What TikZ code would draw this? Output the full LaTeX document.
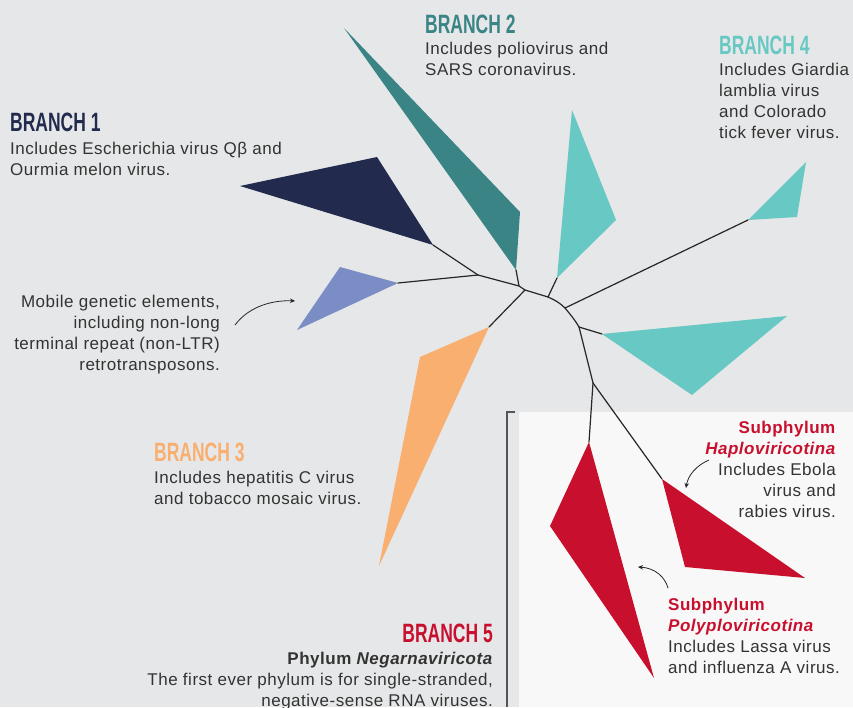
\documentclass[tikz,border=0pt]{standalone}
\usepackage{fontspec}
\usepackage{graphicx}
\setmainfont{Liberation Sans}[LetterSpace=3]
\newfontfamily\titlefont{Liberation Sans}
\usetikzlibrary{arrows.meta}

\definecolor{bgcol}{HTML}{E6E7E8}
\definecolor{panelcol}{HTML}{F8F8F8}
\definecolor{navy}{HTML}{222B4D}
\definecolor{slate}{HTML}{7A8EC5}
\definecolor{darkteal}{HTML}{3A8485}
\definecolor{lightteal}{HTML}{68C8C3}
\definecolor{apricot}{HTML}{F9AF6F}
\definecolor{crimson}{HTML}{C8102E}
\definecolor{bodytext}{HTML}{333333}
\definecolor{rulecol}{HTML}{555555}

% condensed heavy heading
\newcommand\brtitle[1]{\scalebox{0.66}[1]{\titlefont\fontsize{26.5}{26.5}\selectfont\bfseries #1}}

\tikzset{
  body/.style={inner sep=0pt, text=bodytext, font=\fontsize{17}{21}\selectfont},
  heading/.style={inner sep=0pt},
  treeline/.style={draw=black!85, line width=1.2pt, line cap=round, line join=round},
  pointer/.style={draw=black!85, line width=0.8pt, -{Stealth[length=5pt,width=4.5pt]}},
}

\begin{document}
\begin{tikzpicture}[x=1pt,y=-1pt]
% canvas and the lighter panel for branch 5
\fill[bgcol] (0,0) rectangle (853,707);
\useasboundingbox (0,0) rectangle (853,707);
\fill[panelcol] (519,412) rectangle (853,707);
\draw[rulecol, line width=1.3pt] (515,412) -- (507,412) -- (507,707);

% tree junctions
\coordinate (A) at (478,275);
\coordinate (B) at (519,286);
\coordinate (C) at (525,290);
\coordinate (D) at (548,297);
\coordinate (E) at (565,308);
\coordinate (F) at (579,327);
\coordinate (G) at (593,383);

% clade tips
\coordinate (t1) at (433,245);
\coordinate (tm) at (398,283);
\coordinate (t2) at (516,270);
\coordinate (t3) at (489,327);
\coordinate (ta) at (557,278);
\coordinate (t4) at (748,220);
\coordinate (tb) at (602,334);
\coordinate (tr1) at (589,442);
\coordinate (tr2) at (662,479);

% clade wedges
\fill[navy] (t1) -- (240,186) -- (377,157) -- cycle;
\fill[slate] (tm) -- (340,267) -- (297,330) -- cycle;
\fill[darkteal] (t2) -- (344,28) -- (520,212) -- cycle;
\fill[apricot] (t3) -- (420,357) -- (379,566) -- cycle;
\fill[lightteal] (ta) -- (572,110) -- (616,220) -- cycle;
\fill[lightteal] (t4) -- (806,162) -- (797,217) -- cycle;
\fill[lightteal] (tb) -- (787,316) -- (692,395) -- cycle;
\fill[crimson] (tr1) -- (550,526) -- (654,678) -- cycle;
\fill[crimson] (tr2) -- (805,578) -- (685,567) -- cycle;

% branches
\path[treeline] (t1) -- (A);
\path[treeline] (tm) -- (A);
\path[treeline] (A) -- (B) -- (C);
\path[treeline] (t2) -- (B);
\path[treeline] (t3) -- (C);
\path[treeline] (C) -- (D);
\path[treeline] (D) .. controls (555,300) and (560,303) .. (E);
\path[treeline] (E) .. controls (570,314) and (575,320) .. (F);
\path[treeline] (ta) -- (D);
\path[treeline] (t4) -- (E);
\path[treeline] (tb) -- (F);
\path[treeline] (F) -- (G);
\path[treeline] (G) -- (tr1);
\path[treeline] (G) -- (tr2);

% headings and descriptions
\node[heading, anchor=north west, text=navy] (h1) at (10,113) {\brtitle{BRANCH 1}};
\node[body, anchor=north west, align=left] (d1) at (10,142)
  {Includes Escherichia virus Qβ and\\Ourmia melon virus.};

\node[heading, anchor=north west, text=darkteal] (h2) at (425,15) {\brtitle{BRANCH 2}};
\node[body, anchor=north west, align=left] (d2) at (425,42)
  {Includes poliovirus and\\SARS coronavirus.};

\node[heading, anchor=north west, text=lightteal] (h4) at (719,36) {\brtitle{BRANCH 4}};
\node[body, anchor=north west, align=left] (d4) at (719,63)
  {Includes Giardia\\lamblia virus\\and Colorado\\tick fever virus.};

\node[heading, anchor=north west, text=apricot] (h3) at (154,443) {\brtitle{BRANCH 3}};
\node[body, anchor=north west, align=left] (d3) at (154,471)
  {Includes hepatitis C virus\\and tobacco mosaic virus.};

\node[body, anchor=north east, align=right] (mob) at (220,295)
  {Mobile genetic elements,\\including non-long\\terminal repeat (non-LTR)\\retrotransposons.};

\node[heading, anchor=north east, text=crimson] (h5) at (493,624) {\brtitle{BRANCH 5}};
\node[body, anchor=north east, align=right] (d5) at (493,652)
  {\textbf{Phylum \textit{Negarnaviricota}}\\The first ever phylum is for single-stranded,\\negative-sense RNA viruses.};

\node[body, anchor=north east, align=right] (hap) at (836,421)
  {\textcolor{crimson}{\textbf{Subphylum}}\\\textcolor{crimson}{\textbf{\textit{Haploviricotina}}}\\Includes Ebola\\virus and\\rabies virus.};

\node[body, anchor=north west, align=left] (pol) at (668,598)
  {\textcolor{crimson}{\textbf{Subphylum}}\\\textcolor{crimson}{\textbf{\textit{Polyploviricotina}}}\\Includes Lassa virus\\and influenza A virus.};

% pointers
\coordinate (ma) at (235,325);
\coordinate (mb) at (295,301);
\draw[pointer] (ma) .. controls (250,305) and (275,300) .. (mb);
\coordinate (ha) at (709,460);
\coordinate (hb) at (686,488);
\draw[pointer] (ha) .. controls (697,465) and (688,475) .. (hb);
\coordinate (pa) at (668,588);
\coordinate (pb) at (638,567);
\draw[pointer] (pa) .. controls (665,577) and (655,568) .. (pb);
\end{tikzpicture}
\end{document}
